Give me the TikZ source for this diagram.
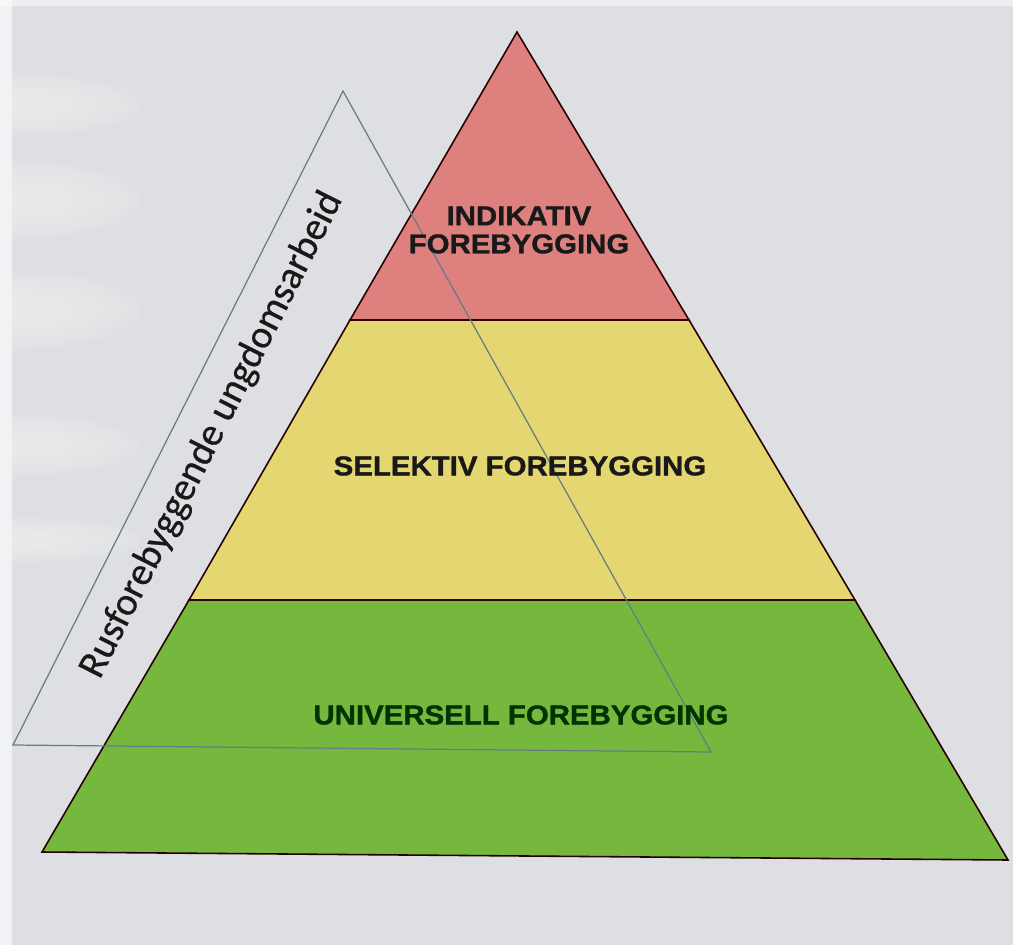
\documentclass[tikz,border=0pt]{standalone}
\usepackage{fontspec}
\setmainfont{Liberation Sans}
\newfontfamily\calfont[FakeBold=0.6]{Carlito}
\newfontfamily\lblfont[FakeBold=1.2,FakeStretch=1.08]{Liberation Sans Bold}
\begin{document}
\begin{tikzpicture}[x=0.02cm,y=-0.02cm,
  band/.style={draw=black!85!red, line width=0.9pt},
  sep/.style={draw=black!80!red, line width=1.6pt},
  lbl/.style={font=\lblfont\fontsize{15.5}{17}\selectfont, text=black!90, align=center, inner sep=0pt},
  outl/.style={draw=black!55!cyan!60!gray, line width=0.7pt}]
\definecolor{bg}{RGB}{222,223,227}
\definecolor{redband}{RGB}{222,128,126}
\definecolor{yelband}{RGB}{228,214,112}
\definecolor{grnband}{RGB}{118,184,62}
\useasboundingbox (0,0) rectangle (1013,945);
\fill[bg] (0,0) rectangle (1013,945);
\fill[white, opacity=0.6] (0,0) rectangle (12,945);
\fill[white, opacity=0.5] (0,0) rectangle (1013,6);
\foreach \cy/\h in {105/30, 200/38, 310/38, 445/30, 540/22}{
  \foreach \k in {1,...,8}{
    \fill[white, opacity=0.07] (15,\cy) ellipse ({30+12*\k} and {\h*(0.25+0.1*\k)});
  }
}
% pyramid
\coordinate (apex) at (517,32);
\coordinate (rl) at (350,320);
\coordinate (rr) at (689,320);
\coordinate (yl) at (189,600);
\coordinate (yr) at (855,600);
\coordinate (gl) at (42,852);
\coordinate (gr) at (1008,860);
\filldraw[band, fill=redband] (apex) -- (rr) -- (rl) -- cycle;
\filldraw[band, fill=yelband] (rl) -- (rr) -- (yr) -- (yl) -- cycle;
\filldraw[band, fill=grnband] (yl) -- (yr) -- (gr) -- (gl) -- cycle;
\draw[sep] (rl) -- (rr);
\draw[sep] (yl) -- (yr);
% outline triangle
\coordinate (oa) at (343,91);
\coordinate (ol) at (13,745);
\coordinate (or) at (711,752);
\draw[outl] (oa) -- (or) -- (ol) -- cycle;
% labels
\node[lbl] (ind) at (519,230) {INDIKATIV\\[-1pt]FOREBYGGING};
\node[lbl] (sel) at (520,466) {SELEKTIV FOREBYGGING};
\node[lbl, text=black!80!green] (uni) at (521,715) {UNIVERSELL FOREBYGGING};
\node[font=\calfont\fontsize{22.5}{24}\selectfont, text=black!90, rotate=63.2, inner sep=0pt] (rus) at (212,435) {Rusforebyggende ungdomsarbeid};
\end{tikzpicture}
\end{document}
